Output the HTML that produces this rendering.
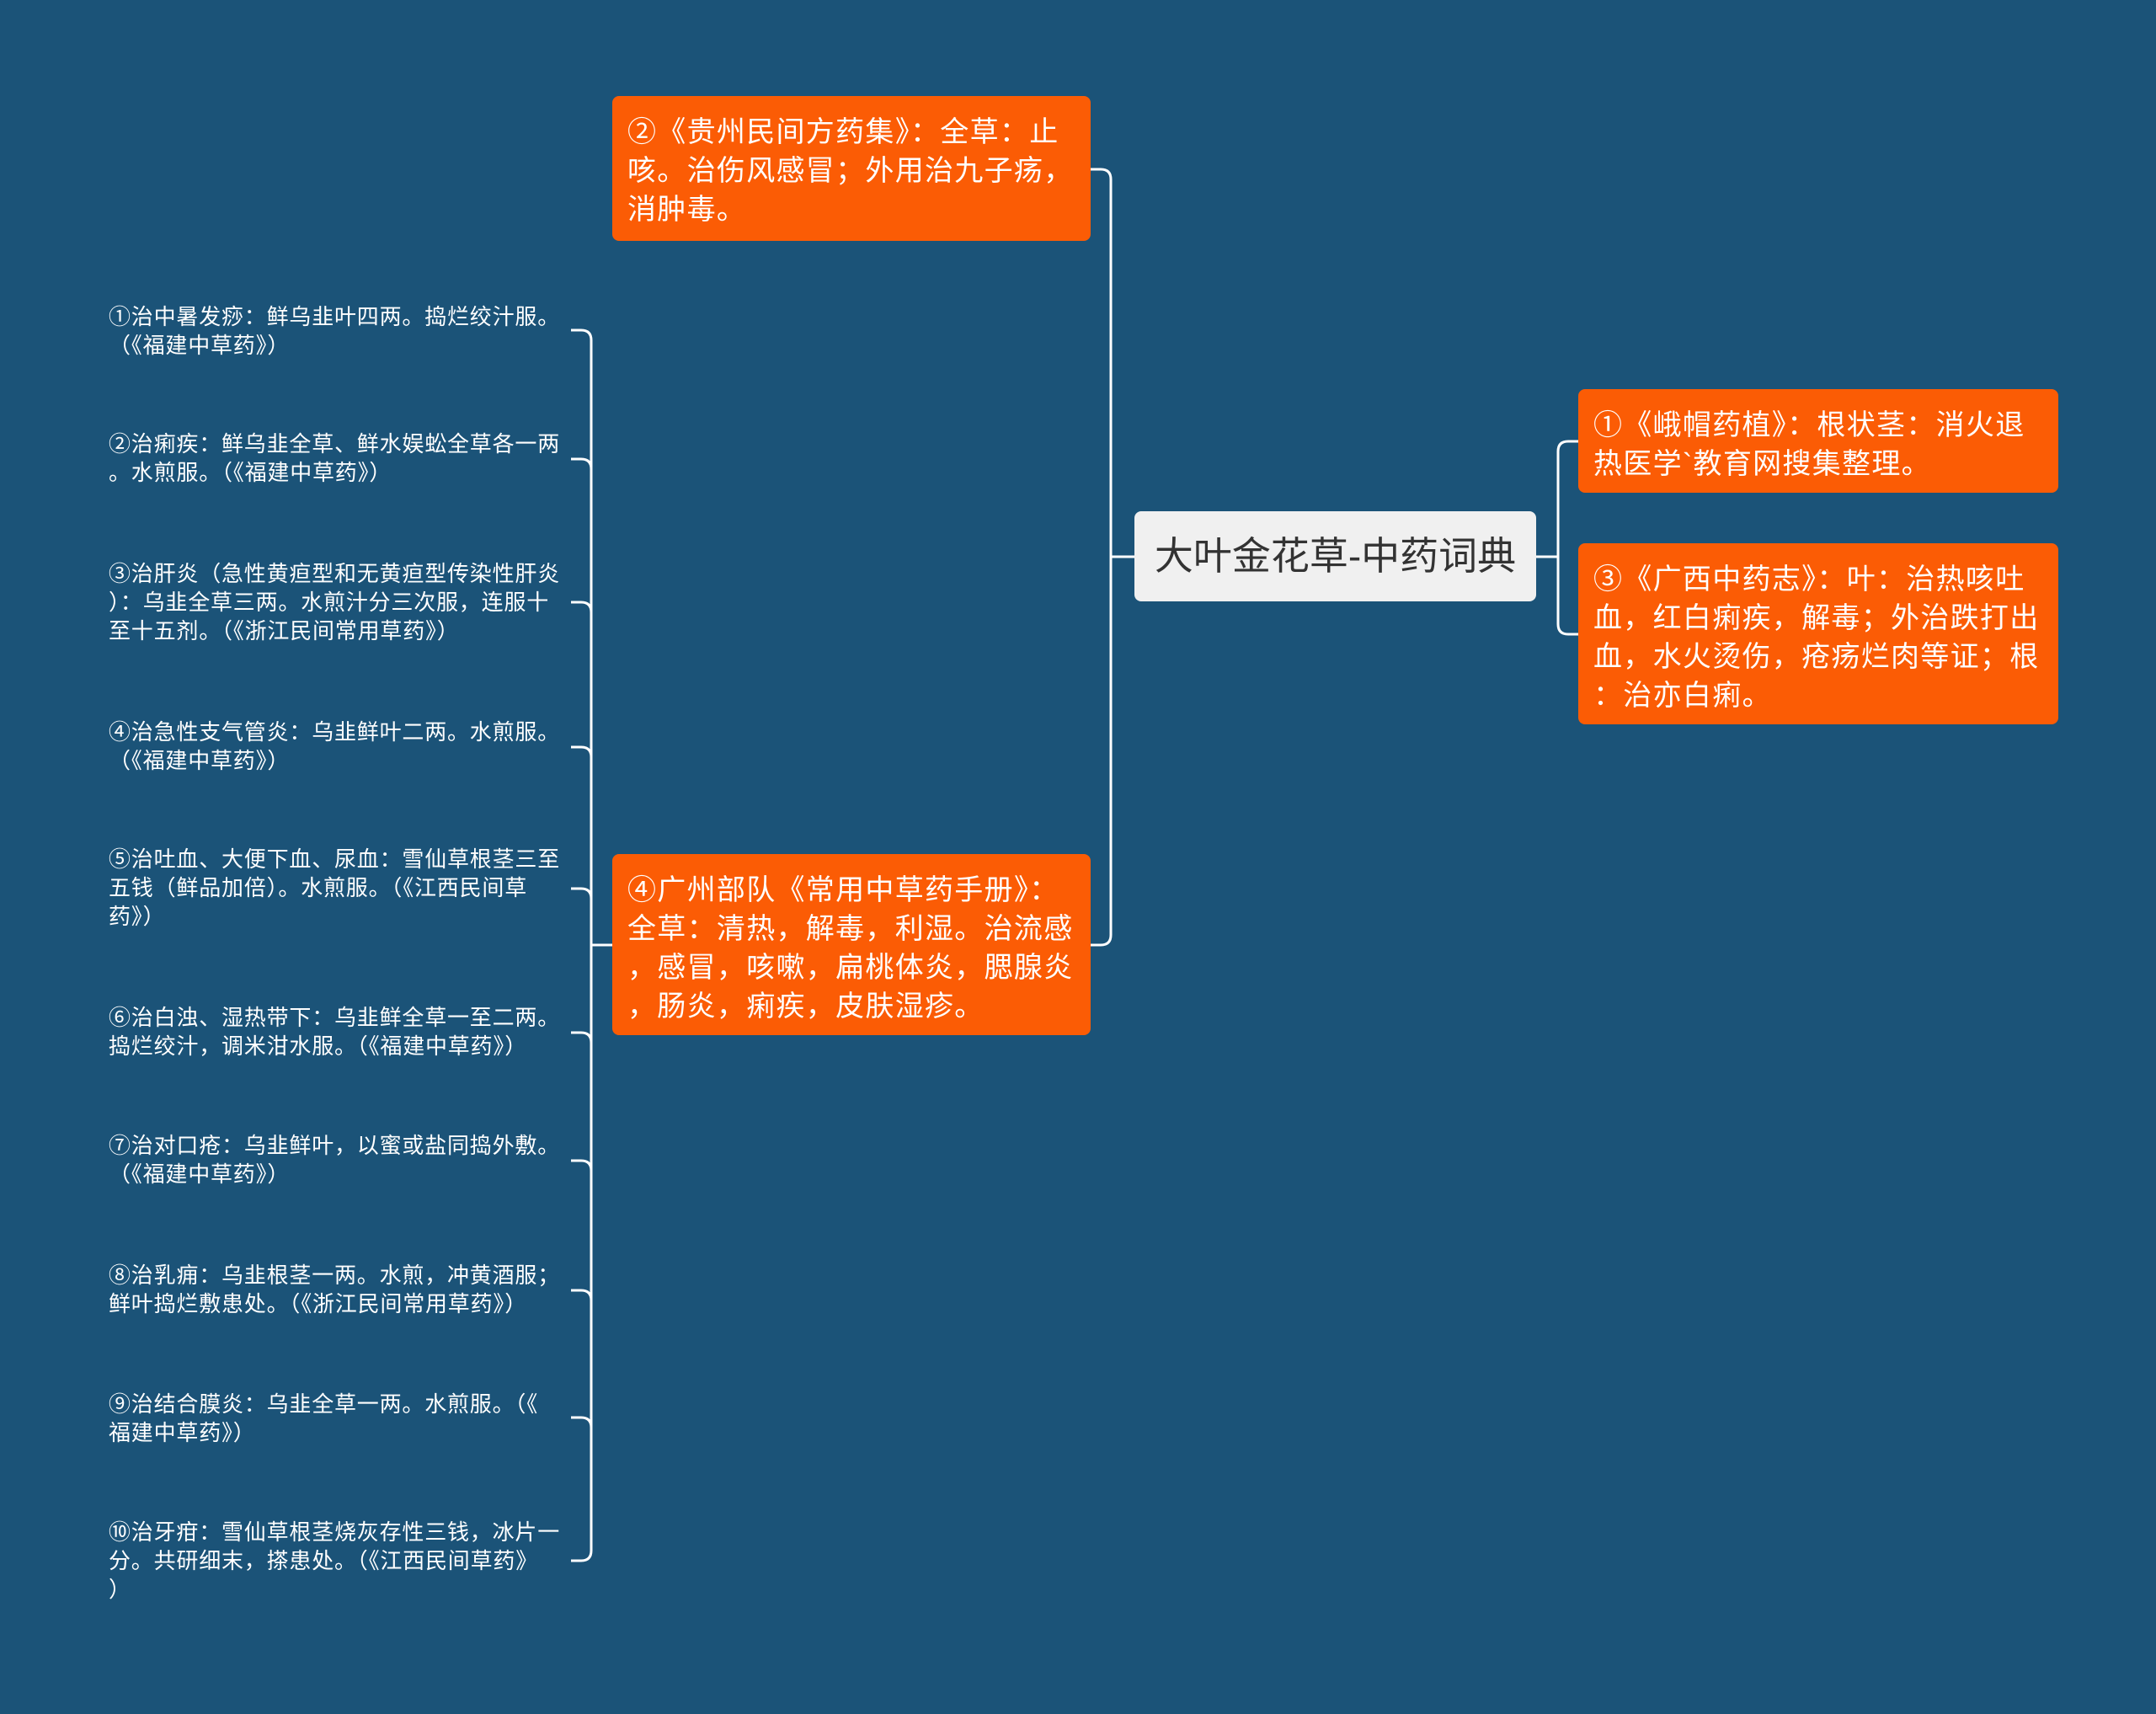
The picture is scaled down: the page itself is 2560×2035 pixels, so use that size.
<!DOCTYPE html>
<html><head><meta charset="utf-8"><style>
html,body{margin:0;padding:0}
body{width:2560px;height:2035px;background:#1b5378;position:relative;overflow:hidden;font-family:"Liberation Sans","Noto Sans CJK SC",sans-serif}
.box{position:absolute;background:#fb5c05;border-radius:8px;color:#fff;font-size:34px;line-height:46px;padding:20px 18px 14px;box-sizing:border-box;white-space:nowrap;letter-spacing:1.3px}
.it{position:absolute;left:129px;color:#fff;font-size:26px;line-height:34px;white-space:nowrap;letter-spacing:0.8px}
svg{position:absolute;left:0;top:0}
</style></head><body>
<svg width="2560" height="2035" fill="none" stroke="#fff" stroke-width="3">
<path d="M1295,201 H1307 Q1319,201 1319,213 V1110 Q1319,1122 1307,1122 H1295"/>
<path d="M1319,661 H1347"/>
<path d="M1824,661 H1850"/>
<path d="M1874,524 H1862 Q1850,524 1850,536 V741 Q1850,753 1862,753 H1874"/>
<path d="M702,1122 H727"/>
<path d="M678,392 H690 Q702,392 702,404 V1841 Q702,1853 690,1853 H678"/>
<path d="M678,545 H690 Q702,545 702,557"/>
<path d="M678,715 H690 Q702,715 702,727"/>
<path d="M678,887 H690 Q702,887 702,899"/>
<path d="M678,1055 H690 Q702,1055 702,1067"/>
<path d="M678,1226 H690 Q702,1226 702,1238"/>
<path d="M678,1378 H690 Q702,1378 702,1390"/>
<path d="M678,1532 H690 Q702,1532 702,1544"/>
<path d="M678,1683 H690 Q702,1683 702,1695"/>
</svg>
<div class="box" style="left:727px;top:114px;width:568px;height:172px">②《贵州民间方药集》：全草：止<br>咳。治伤风感冒；外用治九子疡，<br>消肿毒。</div>
<div class="box" style="left:727px;top:1014px;width:568px;height:215px">④广州部队《常用中草药手册》：<br>全草：清热，解毒，利湿。治流感<br>，感冒，咳嗽，扁桃体炎，腮腺炎<br>，肠炎，痢疾，皮肤湿疹。</div>
<div class="box" style="left:1874px;top:462px;width:570px;height:123px">①《峨帽药植》：根状茎：消火退<br>热医学`教育网搜集整理。</div>
<div class="box" style="left:1874px;top:645px;width:570px;height:215px">③《广西中药志》：叶：治热咳吐<br>血，红白痢疾，解毒；外治跌打出<br>血，水火烫伤，疮疡烂肉等证；根<br>：治亦白痢。</div>
<div style="position:absolute;left:1347px;top:607px;width:477px;height:107px;background:#f0f0f0;border-radius:8px;color:#333;font-size:46px;line-height:107px;text-align:center;white-space:nowrap">大叶金花草-中药词典</div>
<div class="it" style="top:359px">①治中暑发痧：鲜乌韭叶四两。捣烂绞汁服。<br>（《福建中草药》）</div>
<div class="it" style="top:510px">②治痢疾：鲜乌韭全草、鲜水娱蚣全草各一两<br>。水煎服。（《福建中草药》）</div>
<div class="it" style="top:664px">③治肝炎（急性黄疸型和无黄疸型传染性肝炎<br>）：乌韭全草三两。水煎汁分三次服，连服十<br>至十五剂。（《浙江民间常用草药》）</div>
<div class="it" style="top:852px">④治急性支气管炎：乌韭鲜叶二两。水煎服。<br>（《福建中草药》）</div>
<div class="it" style="top:1003px">⑤治吐血、大便下血、尿血：雪仙草根茎三至<br>五钱（鲜品加倍）。水煎服。（《江西民间草<br>药》）</div>
<div class="it" style="top:1191px">⑥治白浊、湿热带下：乌韭鲜全草一至二两。<br>捣烂绞汁，调米泔水服。（《福建中草药》）</div>
<div class="it" style="top:1343px">⑦治对口疮：乌韭鲜叶，以蜜或盐同捣外敷。<br>（《福建中草药》）</div>
<div class="it" style="top:1497px">⑧治乳痈：乌韭根茎一两。水煎，冲黄酒服；<br>鲜叶捣烂敷患处。（《浙江民间常用草药》）</div>
<div class="it" style="top:1650px">⑨治结合膜炎：乌韭全草一两。水煎服。（《<br>福建中草药》）</div>
<div class="it" style="top:1802px">⑩治牙疳：雪仙草根茎烧灰存性三钱，冰片一<br>分。共研细末，搽患处。（《江西民间草药》<br>）</div>
</body></html>
